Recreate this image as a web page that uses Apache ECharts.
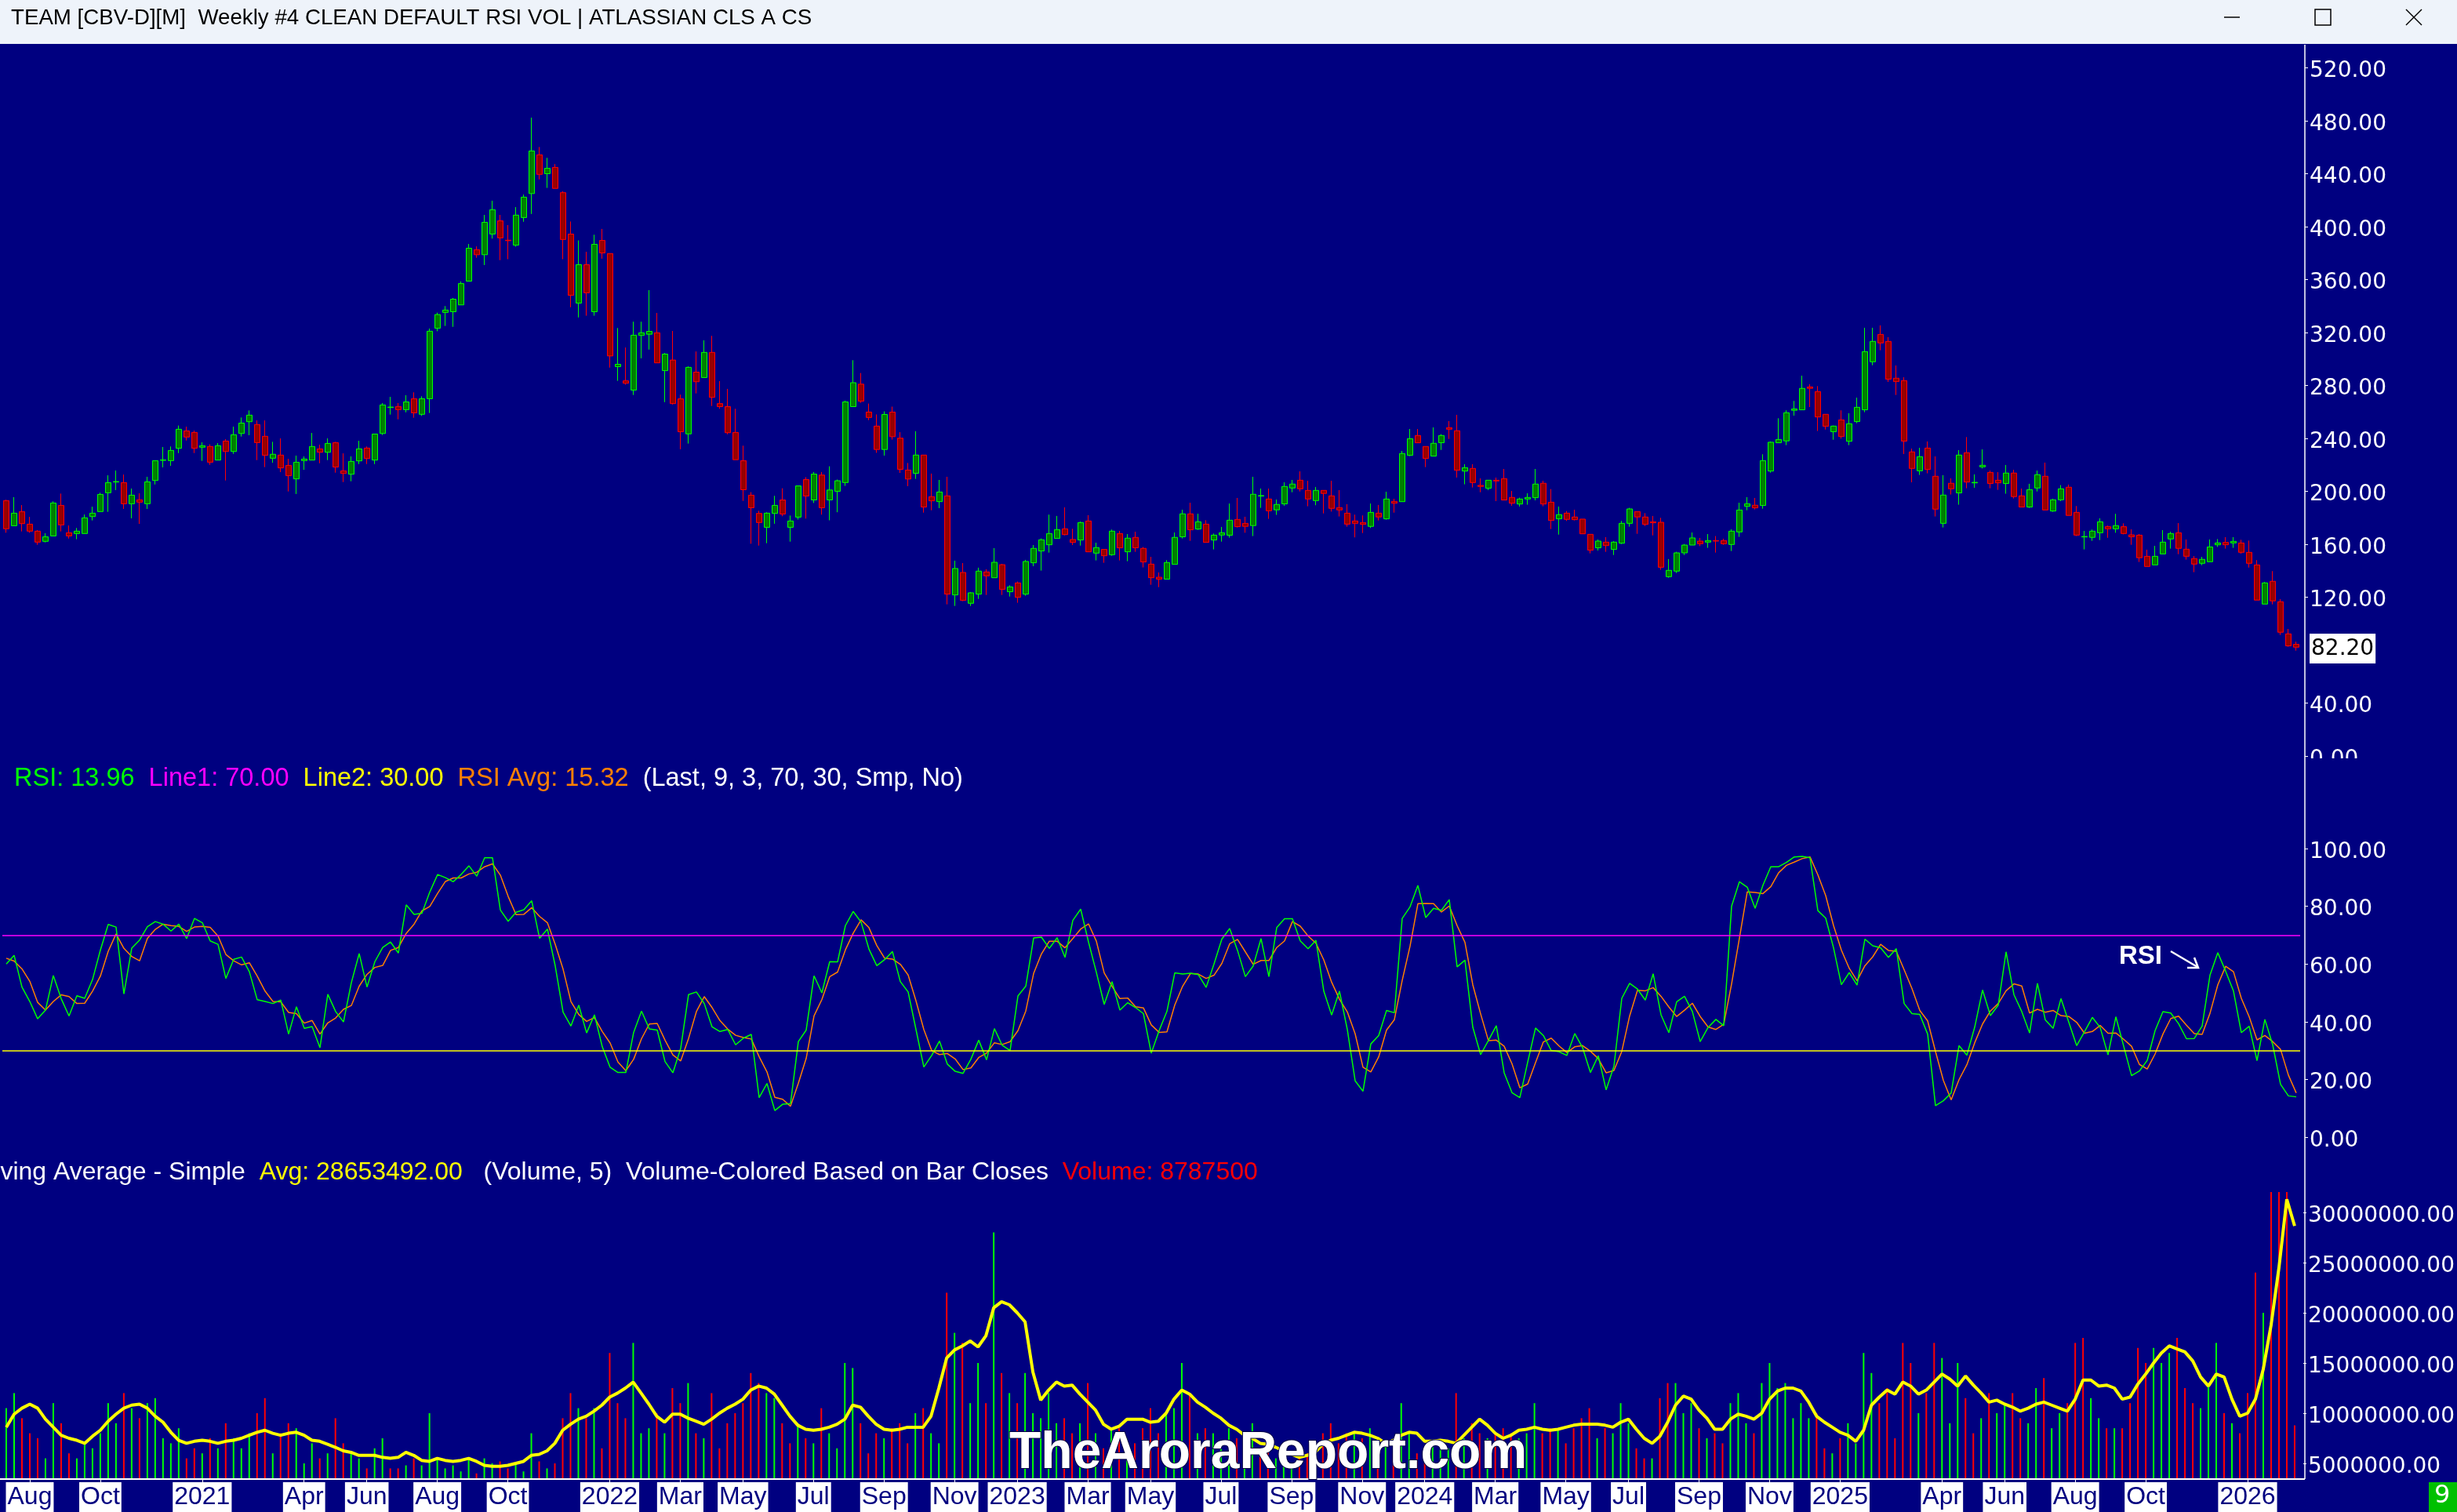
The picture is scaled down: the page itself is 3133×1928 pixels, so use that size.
<!DOCTYPE html>
<html>
<head>
<meta charset="utf-8">
<script src="https://cdn.jsdelivr.net/npm/echarts@6/dist/echarts.min.js"></script>
<style>
  html, body { margin: 0; padding: 0; background: #000080; }
  #chart { width: 3133px; height: 1928px; }
</style>
</head>
<body>
<div id="chart"></div>
<script>
// weekly bars, first bar = week of 13 Jul 2020
const firstWeek = [2020, 6, 13];

const opens = [193.0,174.0,184.7,175.2,169.9,162.2,166.3,189.4,168.7,168.1,
  168.1,180.9,184.7,198.9,207.0,206.6,190.6,193.6,190.6,208.2,
  223.4,223.2,232.5,245.7,244.5,233.3,233.9,223.6,238.0,230.1,
  243.7,252.6,250.5,241.6,225.0,227.4,219.6,209.4,223.2,223.6,
  232.1,229.5,236.8,215.5,212.9,223.0,232.7,223.6,243.7,263.3,
  264.1,261.7,270.0,258.2,270.0,323.2,335.2,335.7,340.9,358.8,
  382.6,378.8,394.4,404.4,389.8,386.0,406.9,425.0,454.3,440.0,
  444.8,425.7,394.4,342.2,371.3,335.7,389.6,379.7,294.2,283.5,
  276.5,317.8,318.7,319.8,291.2,299.2,269.9,243.4,290.1,286.0,
  305.0,266.3,264.0,244.5,223.2,197.1,183.3,172.8,183.3,193.5,
  172.8,180.5,208.9,193.5,212.3,193.5,200.0,206.6,264.0,281.0,
  259.9,249.3,231.6,259.9,240.2,216.1,213.6,227.4,196.0,192.2,
  196.6,121.7,138.7,115.4,122.3,139.1,134.7,144.6,124.1,130.8,
  122.3,146.0,154.9,159.6,164.4,171.7,163.6,163.2,177.6,153.3,
  156.1,152.1,168.1,154.3,165.2,156.9,145.0,135.1,133.6,144.8,
  165.6,183.0,171.5,175.2,163.2,167.0,166.8,178.8,175.8,174.1,
  196.4,194.2,186.0,190.5,202.5,208.4,200.7,193.0,200.7,196.6,
  187.7,183.5,177.6,176.4,173.5,183.5,179.2,192.4,192.2,227.2,
  242.2,233.9,226.6,236.7,248.1,245.8,215.3,217.3,204.5,202.3,
  208.4,209.6,195.4,190.4,194.2,195.2,206.1,191.8,179.2,183.5,
  180.6,179.0,167.5,157.3,161.6,156.1,160.8,175.8,184.7,180.6,
  177.0,176.6,135.5,139.7,153.5,159.4,162.4,161.6,162.8,162.8,
  159.8,169.3,188.7,189.5,189.3,215.3,236.7,238.1,261.2,261.6,
  278.9,275.4,258.2,245.0,254.0,237.8,252.7,261.6,297.9,318.6,
  313.3,285.5,283.7,229.8,215.5,232.7,211.4,175.8,206.1,198.8,
  229.2,206.4,218.5,214.3,208.4,205.9,213.8,196.6,188.1,202.5,
  211.4,185.1,193.6,203.1,184.1,165.5,165.2,168.7,173.3,171.7,
  173.3,167.1,166.9,150.9,144.4,152.7,164.0,168.7,156.3,149.2,
  145.6,146.8,159.6,161.4,161.0,161.0,153.9,144.4,114.8,132.0,
  116.6,92.3,84.4];

const closes = [171.7,183.5,175.6,169.9,161.6,165.7,191.2,174.6,166.3,169.9,
  180.0,183.5,197.7,206.6,207.4,190.6,197.1,191.8,207.2,223.2,
  223.8,230.9,246.9,241.0,232.5,234.5,222.0,234.5,230.1,242.8,
  251.6,257.6,236.8,227.2,228.0,217.7,211.8,222.0,224.4,233.9,
  229.5,236.2,218.3,213.5,222.6,232.1,224.8,243.3,265.3,263.7,
  261.7,267.6,259.3,270.0,321.0,333.6,337.0,345.2,357.0,383.7,
  378.8,403.3,412.8,391.5,389.4,408.7,422.3,457.2,439.5,444.1,
  428.9,390.3,348.1,371.3,350.0,386.7,380.1,302.3,296.0,281.7,
  318.0,319.8,320.9,297.1,303.7,266.3,245.0,293.7,282.8,305.0,
  271.0,264.0,244.3,223.9,201.2,187.6,176.4,183.5,189.4,182.8,
  177.6,204.1,196.4,213.0,187.6,201.0,208.0,267.6,282.1,268.1,
  255.8,231.6,258.1,241.3,216.6,209.3,227.4,188.1,192.8,199.5,
  122.3,141.7,117.6,123.3,139.7,136.1,146.4,125.9,127.8,119.9,
  147.0,156.9,163.4,168.1,171.1,167.3,161.4,176.4,154.3,157.5,
  151.3,169.9,157.3,164.6,157.3,146.6,134.7,133.6,146.2,165.2,
  183.0,170.9,177.0,161.4,166.9,168.7,178.2,173.3,173.5,197.8,
  196.8,185.3,190.1,203.7,205.5,201.9,194.2,200.7,198.4,187.1,
  185.9,175.2,175.8,175.0,184.1,180.6,194.2,191.0,228.6,239.8,
  236.7,224.8,236.3,242.2,246.9,215.9,217.9,206.6,203.7,208.4,
  207.8,193.4,191.0,194.2,195.4,205.5,190.4,178.0,182.4,178.8,
  178.6,167.9,155.5,162.4,159.0,161.6,175.8,186.7,180.6,175.0,
  176.2,142.6,140.3,153.5,159.4,164.8,160.4,162.8,162.4,160.4,
  169.9,185.9,190.6,187.5,223.2,237.1,239.2,259.4,262.3,277.8,
  277.8,256.2,249.1,249.3,241.4,251.1,263.5,305.6,313.3,312.1,
  284.7,282.9,237.9,217.3,226.2,216.5,186.5,197.2,201.9,227.4,
  207.0,206.8,219.7,205.9,206.4,213.8,196.0,188.1,201.3,212.6,
  185.9,193.6,201.9,181.8,166.9,165.9,169.9,177.0,171.7,174.1,
  168.1,165.6,149.8,143.2,150.9,161.6,168.1,156.9,150.9,145.0,
  148.6,158.0,161.0,159.6,162.2,153.9,145.6,117.8,130.8,117.2,
  93.5,83.2,82.2];

const highs = [193.6,195.6,189.6,180.7,170.7,168.3,192.4,198.3,174.2,172.3,
  182.5,188.4,198.9,212.1,215.7,212.7,202.1,198.5,211.0,223.2,
  233.5,233.9,249.7,248.9,245.9,237.0,235.5,236.4,239.4,248.9,
  255.8,261.1,253.6,253.6,237.4,240.0,224.6,227.0,226.4,244.1,
  235.3,240.0,237.4,228.7,226.4,238.2,233.9,243.3,266.7,271.4,
  266.7,272.6,274.8,271.8,323.0,335.0,340.0,346.1,358.6,386.9,
  385.1,408.9,419.6,408.9,401.2,414.8,424.3,482.4,460.2,452.0,
  447.3,426.8,403.9,389.6,381.0,393.9,398.3,379.7,323.4,308.7,
  328.2,328.2,352.0,334.8,304.6,321.2,273.1,294.4,305.7,314.1,
  317.5,283.3,277.4,262.4,234.5,199.4,185.3,184.2,196.6,202.3,
  181.7,204.1,210.7,214.6,214.6,218.9,208.9,268.5,299.1,289.4,
  266.3,258.1,260.4,264.0,244.7,221.4,245.4,227.4,213.4,208.6,
  211.0,147.6,145.8,123.9,142.3,141.1,157.1,145.2,129.0,131.8,
  148.2,159.4,164.4,182.4,181.4,187.9,171.7,177.2,182.0,161.2,
  156.1,171.1,170.1,167.7,169.5,157.9,150.5,138.7,148.0,168.9,
  186.1,191.4,183.1,178.2,168.1,173.1,190.8,195.0,180.8,211.0,
  202.1,202.1,193.8,206.8,208.6,215.1,208.0,203.3,200.7,208.0,
  200.9,190.3,182.4,181.8,190.8,189.7,199.7,194.4,230.5,247.1,
  247.1,233.9,248.3,243.2,253.1,257.8,220.5,220.5,209.8,208.4,
  210.4,216.9,200.3,195.2,198.5,216.9,208.0,201.7,188.5,185.1,
  186.1,179.0,167.5,163.6,165.4,162.4,177.6,187.5,184.7,183.5,
  181.4,180.0,148.8,154.3,160.2,168.9,164.8,167.7,166.2,164.2,
  171.3,191.4,195.6,195.0,228.0,237.7,255.2,261.2,268.3,287.4,
  280.9,279.5,258.2,249.7,261.2,259.0,270.8,323.6,323.6,325.4,
  316.5,295.1,286.2,232.3,232.9,237.7,226.4,212.2,209.8,231.1,
  241.0,212.8,231.7,215.7,214.5,219.9,216.3,202.1,205.7,215.7,
  221.7,194.4,204.7,205.1,188.9,170.1,171.1,179.6,174.2,183.0,
  175.8,171.3,167.7,155.9,158.8,170.7,169.5,176.0,163.6,151.1,
  150.5,163.6,163.9,165.4,165.4,163.4,162.8,148.0,131.6,139.7,
  118.5,96.0,86.4];

const lows = [168.7,174.0,169.7,168.7,159.6,161.4,166.3,169.7,164.3,163.8,
  168.1,178.0,184.7,184.5,200.9,186.7,179.6,175.4,186.7,205.2,
  218.1,219.3,228.9,238.4,228.9,223.0,220.0,223.6,208.2,228.3,
  241.4,242.4,223.6,218.3,221.6,214.5,199.9,198.0,216.3,223.6,
  221.2,223.6,214.1,207.0,207.6,220.6,220.6,220.6,242.6,258.0,
  254.4,259.7,255.6,257.0,259.2,321.0,325.0,324.3,340.9,358.8,
  376.5,371.0,391.0,374.7,375.4,384.9,403.7,409.6,435.7,429.3,
  428.9,375.4,339.1,331.4,332.7,332.7,375.8,293.5,283.5,280.6,
  272.8,300.5,307.1,297.1,267.4,265.6,231.8,236.1,274.0,286.0,
  264.5,262.4,243.1,223.9,192.8,160.4,159.0,160.8,175.5,181.2,
  162.0,178.7,179.4,191.2,182.4,178.1,184.2,204.1,264.0,266.9,
  253.8,229.1,227.0,239.1,213.9,203.9,209.4,183.9,185.7,187.3,
  114.6,113.4,117.0,113.4,118.7,121.7,134.7,121.7,120.5,115.8,
  121.1,143.4,140.1,153.7,164.4,166.7,159.4,159.0,154.3,147.8,
  146.0,151.3,147.8,147.2,154.3,142.5,129.4,127.6,133.6,144.8,
  164.4,162.6,170.9,161.4,156.1,162.0,165.0,172.7,168.7,166.2,
  187.5,179.2,182.2,189.1,199.3,199.9,188.7,189.5,183.3,184.7,
  181.0,173.3,165.2,168.5,172.3,178.0,178.6,183.9,192.2,226.6,
  236.7,218.3,226.6,231.3,239.6,210.4,205.3,202.9,199.3,200.9,
  192.6,193.4,189.1,188.5,189.9,193.2,188.7,171.5,167.3,177.6,
  178.0,167.9,153.1,155.3,154.3,151.9,160.2,173.3,167.9,173.8,
  166.7,140.7,134.7,138.3,151.9,159.4,158.6,157.3,153.7,159.6,
  154.9,165.6,185.7,186.3,186.9,214.1,236.7,234.9,257.2,261.6,
  263.7,245.6,246.7,239.0,239.8,234.9,251.5,259.8,295.3,306.6,
  282.7,272.8,228.2,206.8,212.4,213.6,181.0,172.7,197.6,189.9,
  202.3,202.7,217.3,202.3,201.1,198.2,194.6,188.1,187.5,199.9,
  185.9,184.5,192.6,181.8,166.2,156.1,162.6,163.2,164.9,168.7,
  167.5,159.6,146.6,143.2,144.4,152.7,156.7,152.5,148.4,138.9,
  144.2,146.8,158.0,156.7,157.3,152.9,142.4,117.8,114.8,114.6,
  91.5,82.6,79.6];

// RSI (green) and RSI Avg (orange)
const rsi = [60.0,63.0,52.0,47.0,41.0,44.0,56.0,48.0,42.0,49.0,
  48.1,54.6,64.8,73.7,72.8,49.6,65.5,68.3,72.9,74.7,
  73.8,71.4,73.8,68.8,75.8,74.3,68.0,66.8,55.0,61.6,
  62.4,57.3,47.6,47.0,46.3,47.5,35.7,45.2,37.7,38.3,
  31.0,49.5,43.5,39.9,53.5,63.6,52.0,60.8,65.7,67.6,
  63.8,80.5,77.2,77.6,84.9,91.0,89.9,88.5,91.0,94.0,
  90.4,96.8,96.8,78.7,74.8,77.9,78.8,81.9,68.9,72.1,
  59.3,43.3,38.5,45.7,36.1,42.4,31.3,24.2,22.4,22.4,
  36.3,43.7,37.5,37.1,26.2,22.3,30.8,49.4,50.3,46.3,
  38.2,36.6,37.3,32.0,34.3,35.6,13.7,18.6,9.2,11.4,
  11.6,33.1,37.1,55.9,50.0,60.8,60.7,73.3,78.2,74.5,
  65.2,59.4,61.5,64.3,53.9,50.3,37.3,24.3,28.3,33.3,
  25.3,22.8,22.1,27.0,33.6,26.8,37.6,31.8,30.0,48.9,
  52.3,69.0,69.3,65.4,69.1,62.3,75.1,79.0,67.6,57.1,
  46.0,53.9,44.0,46.6,44.9,42.8,29.1,36.9,43.6,56.9,
  56.5,56.8,56.3,51.9,60.0,68.6,72.3,64.7,55.6,59.3,
  68.8,55.6,72.6,75.7,75.7,68.0,65.3,68.2,50.6,42.3,
  50.6,37.3,19.5,15.9,32.3,35.2,43.9,43.1,75.8,79.8,
  87.2,76.1,79.3,78.6,82.3,59.0,61.3,38.1,28.6,33.5,
  38.6,22.3,15.4,13.7,26.0,37.8,35.2,30.0,29.6,28.3,
  35.9,31.0,22.4,28.2,16.4,24.6,48.1,53.3,51.3,47.5,
  56.6,42.4,36.2,46.9,48.8,43.5,33.1,38.0,40.8,38.6,
  80.0,88.5,86.6,79.3,87.3,93.7,93.7,95.2,97.1,97.3,
  96.8,78.5,75.9,65.6,52.8,57.0,52.7,68.6,66.3,65.6,
  62.3,65.3,46.3,42.8,42.5,35.7,10.9,12.6,15.3,31.7,
  28.4,38.1,51.0,42.1,45.7,64.2,49.4,43.5,36.1,53.3,
  40.6,37.7,48.0,39.8,31.7,36.5,41.5,38.0,28.5,41.7,
  31.5,21.3,22.9,26.6,36.9,43.5,43.0,39.3,34.1,34.2,
  38.5,56.1,63.9,57.5,50.6,36.2,38.4,26.5,40.8,32.0,
  18.3,14.3,13.96];

const rsiAvg = [62.0,61.0,58.3,54.0,46.7,44.0,47.0,49.3,48.7,46.3,
  46.4,50.6,55.8,64.4,70.4,65.4,62.6,61.1,68.9,72.0,
  73.8,73.3,73.0,71.3,72.8,73.0,72.7,69.7,63.3,61.1,
  59.7,60.4,55.8,50.6,47.0,46.9,43.2,42.8,39.5,40.4,
  35.7,39.6,41.3,44.3,45.6,52.3,56.4,58.8,59.5,64.7,
  65.7,70.6,73.8,78.4,79.9,84.5,88.6,89.8,89.8,91.2,
  91.8,93.7,94.7,90.8,83.4,77.1,77.2,79.5,76.5,74.3,
  66.8,58.2,47.0,42.5,40.1,41.4,36.6,32.6,26.0,23.0,
  27.0,34.1,39.2,39.4,33.6,28.5,26.4,34.2,43.5,48.7,
  44.9,40.4,37.4,35.3,34.5,34.0,27.9,22.6,13.8,13.1,
  10.7,18.7,27.3,42.0,47.7,55.6,57.2,64.9,70.7,75.3,
  72.6,66.4,62.0,61.7,59.9,56.2,47.2,37.3,30.0,28.6,
  29.0,27.1,23.4,24.0,27.6,29.1,32.7,32.1,33.1,36.9,
  43.7,56.7,63.5,67.9,67.9,65.6,68.8,72.1,73.9,67.9,
  56.9,52.3,48.0,48.2,45.2,44.8,38.9,36.3,36.5,45.8,
  52.3,56.7,56.5,55.0,56.1,60.2,67.0,68.5,64.2,59.9,
  61.2,61.2,65.7,68.0,74.7,73.1,69.7,67.2,61.4,53.7,
  47.8,43.4,35.8,24.2,22.6,27.8,37.1,40.7,54.3,66.2,
  80.9,81.0,80.9,78.0,80.1,73.3,67.5,52.8,42.7,33.4,
  33.6,31.5,25.4,17.1,18.4,25.8,33.0,34.3,31.6,29.3,
  31.3,31.7,29.8,27.2,22.3,23.1,29.7,42.0,50.9,50.7,
  51.8,48.8,45.1,41.8,44.0,46.4,41.8,38.2,37.3,39.1,
  53.1,69.0,85.0,84.8,84.4,86.8,91.6,94.2,95.3,96.5,
  97.1,90.9,83.7,73.3,64.8,58.5,54.2,59.4,62.5,66.8,
  64.7,64.4,58.0,51.5,43.9,40.3,29.7,19.7,12.9,19.9,
  25.1,32.7,39.2,43.7,46.3,50.7,53.1,52.4,43.0,44.3,
  43.3,43.9,42.1,41.8,39.8,36.0,36.6,38.7,36.0,36.1,
  33.9,31.5,25.2,23.6,28.8,35.7,41.1,41.9,38.8,35.9,
  35.6,42.9,52.8,59.2,57.3,48.1,41.7,33.7,35.2,33.1,
  30.4,21.5,15.32];

// weekly volume and its moving average, in millions of shares
const volumeM = [10.5,12.0,9.5,8.0,7.5,5.5,11.0,9.0,6.0,5.5,
  7.0,6.5,8.0,11.0,9.0,12.0,10.5,9.5,11.0,11.5,
  7.5,7.0,8.5,5.5,6.5,6.0,7.5,6.5,9.0,7.5,
  6.5,8.0,10.0,11.5,6.0,8.0,9.0,8.5,5.0,7.0,
  5.5,6.0,9.5,7.0,6.0,5.5,4.5,6.5,7.5,4.5,
  4.5,4.8,5.5,4.8,10.0,5.5,4.5,4.8,4.2,5.5,
  4.0,5.5,5.0,5.2,4.5,5.0,4.2,8.0,5.2,4.5,
  5.0,9.5,12.0,10.5,9.5,10.5,6.5,16.0,11.0,9.5,
  17.0,8.0,8.5,10.0,8.0,12.5,11.0,13.0,8.0,7.5,
  12.0,6.5,9.0,10.0,11.0,14.0,13.0,12.0,11.5,9.0,
  7.0,9.0,7.5,7.0,10.5,8.0,6.5,15.0,14.5,9.0,
  6.0,8.0,7.5,8.5,9.0,7.0,10.0,10.5,8.0,7.0,
  22.0,18.0,17.0,11.0,15.0,11.0,28.0,14.0,12.0,11.0,
  14.0,10.0,9.5,12.0,9.0,9.5,8.0,9.0,13.0,8.0,
  6.5,8.5,8.5,7.5,7.0,8.5,10.5,8.0,10.0,10.5,
  15.0,12.0,8.0,8.5,8.0,7.0,8.5,7.5,5.5,9.0,
  6.0,7.0,5.5,6.0,5.0,5.5,6.0,5.0,8.0,9.0,
  7.0,8.0,8.0,7.5,8.5,6.5,7.0,6.0,11.0,8.0,
  6.0,6.5,7.0,6.5,6.5,12.0,7.5,9.0,8.0,7.5,
  8.0,8.5,8.0,7.5,8.0,11.0,8.0,8.5,8.5,7.0,
  8.5,9.5,10.5,7.5,8.5,8.0,11.0,9.0,6.5,5.5,
  5.5,11.5,13.0,13.0,10.0,11.0,8.5,7.5,8.0,7.0,
  11.0,12.0,9.0,8.0,13.0,15.0,12.5,13.0,9.5,11.0,
  9.5,10.0,6.5,6.0,7.5,9.0,7.0,16.0,14.0,11.0,
  12.5,7.5,17.0,15.0,10.0,12.0,17.0,15.5,9.0,15.0,
  11.5,8.0,9.5,12.0,10.0,11.0,12.0,9.5,9.0,12.5,
  13.5,8.5,10.0,11.0,17.0,17.5,11.5,9.5,8.5,8.5,
  8.5,11.0,16.5,15.0,16.5,15.0,16.0,17.5,12.5,11.0,
  10.5,13.0,17.0,10.0,9.0,8.0,12.0,24.0,20.0,33.5,
  41.5,39.5,8.7875];

const volumeAvgM = [8.6,9.9,10.5,10.9,10.5,9.4,8.6,7.8,7.5,7.3,
  7.0,7.7,8.3,9.2,9.9,10.5,10.8,10.9,10.5,9.7,
  9.1,8.1,7.3,7.0,7.2,7.3,7.2,7.0,7.2,7.3,
  7.5,7.8,8.1,8.3,8.0,7.8,8.0,8.1,7.8,7.3,
  7.2,6.9,6.6,6.25,6.1,5.8,5.8,5.8,5.6,5.5,
  5.6,6.1,5.8,5.3,5.2,5.5,5.3,5.2,5.3,5.5,
  5.2,4.8,4.7,4.7,4.8,5.0,5.2,5.8,5.9,6.25,
  7.0,8.3,8.9,9.4,9.7,10.2,10.8,11.6,12.0,12.5,
  13.1,12.0,10.9,9.7,9.1,9.9,9.9,9.5,9.2,8.9,
  9.4,10.0,10.5,10.9,11.4,12.3,12.7,12.5,11.9,10.8,
  9.7,8.8,8.4,8.3,8.4,8.6,8.9,9.4,10.8,10.6,
  9.7,8.9,8.4,8.3,8.4,8.6,8.6,8.6,9.7,12.5,
  15.5,16.3,16.7,17.2,16.6,17.7,20.5,21.1,20.8,20.0,
  19.1,14.1,11.3,12.3,13.1,12.7,12.8,11.9,11.1,10.3,
  8.9,8.4,8.7,9.4,9.4,9.4,9.1,9.2,10.0,11.4,
  12.3,11.9,11.1,10.6,10.0,9.5,8.8,8.4,7.8,7.5,
  7.0,6.9,6.6,6.25,5.9,5.6,5.8,6.1,6.9,7.3,
  7.5,7.8,8.1,8.0,7.8,7.5,7.0,7.3,7.8,8.1,
  8.0,7.2,7.2,7.3,7.2,7.0,7.8,8.6,9.4,8.8,
  8.0,7.5,7.8,8.3,8.4,8.6,8.4,8.3,8.4,8.6,
  8.8,8.9,8.9,8.9,8.8,8.6,9.1,9.4,8.4,7.5,
  7.0,7.7,9.1,10.8,11.7,11.4,10.3,9.5,8.4,8.4,
  9.4,9.9,9.7,9.4,10.0,11.4,12.2,12.5,12.5,12.2,
  11.1,9.7,9.1,8.6,8.1,7.8,7.2,8.3,10.8,11.6,
  12.3,11.9,13.1,12.7,11.9,12.3,13.1,13.9,13.4,12.7,
  13.7,12.8,12.0,11.1,11.3,10.9,10.6,10.2,10.5,10.9,
  11.1,10.8,10.5,10.2,11.4,13.3,13.3,12.7,12.8,12.5,
  11.4,11.6,12.9,13.9,15.0,16.0,16.7,16.4,16.1,15.2,
  13.6,12.7,13.9,13.6,11.4,9.7,10.0,11.4,14.4,18.8,
  24.5,31.3,28.653492];

// time axis labels: week (Monday) that carries each label
const tickWeeks = ['2020-08-03','2020-10-05','2021-01-04','2021-04-05','2021-05-31','2021-08-02','2021-10-04',
  '2022-01-03','2022-03-07','2022-05-02','2022-07-04','2022-09-05','2022-11-07','2023-01-02','2023-03-06','2023-05-01',
  '2023-07-03','2023-09-04','2023-11-06','2024-01-01','2024-03-04','2024-05-06','2024-07-01','2024-09-02','2024-11-04',
  '2025-01-06','2025-04-07','2025-06-02','2025-08-04','2025-10-06','2026-01-05'];
const tickLabels = ['Aug','Oct','2021','Apr','Jun','Aug','Oct',
  '2022','Mar','May','Jul','Sep','Nov','2023','Mar','May',
  'Jul','Sep','Nov','2024','Mar','May','Jul','Sep','Nov',
  '2025','Apr','Jun','Aug','Oct','2026'];

const priceTicks = [0, 40, 120, 160, 200, 240, 280, 320, 360, 400, 440, 480, 520];
const volumeTicks = [5e6, 10e6, 15e6, 20e6, 25e6, 30e6];

// categories
const weeks = [];
for (let i = 0; i < closes.length; i++) {
  const d = new Date(Date.UTC(firstWeek[0], firstWeek[1], firstWeek[2] + 7 * i));
  weeks.push(d.toISOString().slice(0, 10));
}
const tickAt = {};
tickWeeks.forEach((w, k) => {
  const idx = weeks.indexOf(w);
  if (idx >= 0) tickAt[idx] = tickLabels[k];
});

const candles = weeks.map((w, i) => [opens[i], closes[i], lows[i], highs[i]]);
const volBars = volumeM.map((v, i) => ({
  value: v * 1e6,
  itemStyle: { color: (i > 0 && closes[i] < closes[i - 1]) ? '#ff0000' : '#00ff00' }
}));
const volAvg = volumeAvgM.map(v => v * 1e6);
const lastClose = closes[closes.length - 1];

const chart = echarts.init(document.getElementById('chart'));

// right-hand scale labels, nudged a little lower like the original
const yRich = { a: { color: '#ffffff', fontFamily: 'DejaVu Sans', fontSize: 28, padding: [9, 0, 0, 0] } };
const yLab = { color: '#ffffff', fontFamily: 'DejaVu Sans', fontSize: 28, margin: 6, rich: yRich };
const yTick = { show: true, length: 4, lineStyle: { color: '#ffffff', width: 1 } };
const legendFont = '32px "Liberation Sans"';
const rsiFont = '32.5px "Liberation Sans"';

const tagStyle = {
  text: lastClose.toFixed(2), fill: '#000000', font: '28px "DejaVu Sans"',
  backgroundColor: '#ffffff', padding: [6, 2, 4, 2]
};

const option = {
  backgroundColor: '#000080',
  animation: false,
  grid: [
    { left: 3, width: 2930, top: 57, height: 907 },
    { left: 3, width: 2930, top: 1082, height: 368 },
    { left: 3, width: 2930, top: 1520, height: 366 }
  ],
  xAxis: [0, 1, 2].map(k => ({
    type: 'category',
    gridIndex: k,
    data: weeks,
    boundaryGap: true,
    axisLine: { show: false },
    splitLine: { show: false },
    axisTick: {
      show: k === 2,
      alignWithLabel: true,
      length: 4,
      interval: (i) => tickAt[i] !== undefined,
      lineStyle: { color: '#ffffff' }
    },
    axisLabel: {
      show: k === 2,
      interval: (i) => tickAt[i] !== undefined,
      formatter: (v, i) => tickAt[i] || '',
      color: '#000080',
      backgroundColor: '#ffffff',
      fontFamily: 'Liberation Sans',
      fontSize: 32,
      lineHeight: 34,
      padding: [2, 2, 2, 2],
      margin: 4
    }
  })),
  yAxis: [
    {
      gridIndex: 0, type: 'value', position: 'right', offset: 6,
      min: 0, max: 537.5, interval: 40,
      splitLine: { show: false }, axisLine: { show: false },
      axisTick: Object.assign({}, yTick, { customValues: priceTicks }),
      axisLabel: Object.assign({}, yLab, {
        customValues: priceTicks,
        formatter: v => (priceTicks.indexOf(v) >= 0 ? '{a|' + v.toFixed(2) + '}' : '')
      })
    },
    {
      gridIndex: 1, type: 'value', position: 'right', offset: 6,
      min: 0, max: 100, interval: 20,
      splitLine: { show: false }, axisLine: { show: false },
      axisTick: yTick,
      axisLabel: Object.assign({}, yLab, { formatter: v => '{a|' + v.toFixed(2) + '}' })
    },
    {
      gridIndex: 2, type: 'value', position: 'right', offset: 6,
      min: 3437500, max: 32030000,
      splitLine: { show: false }, axisLine: { show: false },
      axisTick: Object.assign({}, yTick, { customValues: volumeTicks }),
      axisLabel: Object.assign({}, yLab, {
        customValues: volumeTicks,
        formatter: v => (volumeTicks.indexOf(v) >= 0 ? '{a|' + v.toFixed(2) + '}' : '')
      })
    }
  ],
  series: [
    {
      type: 'candlestick',
      xAxisIndex: 0, yAxisIndex: 0,
      data: candles,
      barWidth: 7,
      itemStyle: {
        color: '#008000', color0: '#990000',
        borderColor: '#00ff00', borderColor0: '#ff0000', borderWidth: 1
      }
    },
    {
      name: 'RSI', type: 'line', xAxisIndex: 1, yAxisIndex: 1,
      data: rsi, symbol: 'none', z: 4,
      lineStyle: { color: '#00ff00', width: 1.5 },
      markLine: {
        silent: true, symbol: 'none', label: { show: false },
        data: [
          { yAxis: 70, lineStyle: { color: '#ff00ff', width: 1.5, type: 'solid' } },
          { yAxis: 30, lineStyle: { color: '#ffff00', width: 1.5, type: 'solid' } }
        ]
      }
    },
    {
      name: 'RSI Avg', type: 'line', xAxisIndex: 1, yAxisIndex: 1,
      data: rsiAvg, symbol: 'none', z: 3,
      lineStyle: { color: '#ff8000', width: 1.5 }
    },
    {
      name: 'Volume', type: 'bar', xAxisIndex: 2, yAxisIndex: 2,
      data: volBars, barWidth: 2
    },
    {
      name: 'Avg', type: 'line', xAxisIndex: 2, yAxisIndex: 2,
      data: volAvg, symbol: 'none', z: 5,
      lineStyle: { color: '#ffff00', width: 4 }
    }
  ],
  graphic: [
    // title bar
    { type: 'rect', left: 0, top: 0, z: 50, shape: { width: 3133, height: 56 }, style: { fill: '#eef3fa' } },
    { type: 'text', left: 14, top: 9, z: 51,
      style: { text: 'TEAM [CBV-D][M]  Weekly #4 CLEAN DEFAULT RSI VOL | ATLASSIAN CLS A CS',
        fill: '#000000', font: '27.7px "Liberation Sans"' } },
    { type: 'line', z: 51, shape: { x1: 2836, y1: 22, x2: 2856, y2: 22 }, style: { stroke: '#000000', lineWidth: 1.5 } },
    { type: 'rect', z: 51, shape: { x: 2952, y: 12, width: 20, height: 20 }, style: { fill: 'none', stroke: '#000000', lineWidth: 1.5 } },
    { type: 'line', z: 51, shape: { x1: 3068, y1: 12, x2: 3088, y2: 32 }, style: { stroke: '#000000', lineWidth: 1.5 } },
    { type: 'line', z: 51, shape: { x1: 3088, y1: 12, x2: 3068, y2: 32 }, style: { stroke: '#000000', lineWidth: 1.5 } },
    // frame lines
    { type: 'line', z: 40, shape: { x1: 2939, y1: 57, x2: 2939, y2: 1886 }, style: { stroke: '#ffffff', lineWidth: 1.5 } },
    { type: 'line', z: 40, shape: { x1: 0, y1: 1886, x2: 2939, y2: 1886 }, style: { stroke: '#ffffff', lineWidth: 2 } },
    // the price pane ends here: lower part of the 0.00 label is cut off
    { type: 'rect', z: 40, shape: { x: 2941, y: 967, width: 192, height: 26 }, style: { fill: '#000080' } },
    // last price tag (moved onto the price scale after the first render)
    { id: 'lastTag', type: 'text', left: 2945, top: 0, z: 45, style: tagStyle },
    // pane legends
    { type: 'text', left: 18, top: 977, z: 41,
      style: {
        text: '{g|RSI: 13.96}  {m|Line1: 70.00}  {y|Line2: 30.00}  {o|RSI Avg: 15.32}  {w|(Last, 9, 3, 70, 30, Smp, No)}',
        font: rsiFont,
        rich: {
          g: { fill: '#00ff00', font: rsiFont },
          m: { fill: '#ff00ff', font: rsiFont },
          y: { fill: '#ffff00', font: rsiFont },
          o: { fill: '#ff8000', font: rsiFont },
          w: { fill: '#ffffff', font: rsiFont }
        }
      } },
    { type: 'text', left: -44, top: 1479, z: 41,
      style: {
        text: '{w|Moving Average - Simple}  {y|Avg: 28653492.00}   {w|(Volume, 5)  Volume-Colored Based on Bar Closes}  {r|Volume: 8787500}',
        font: legendFont,
        rich: {
          w: { fill: '#ffffff', font: legendFont },
          y: { fill: '#ffff00', font: legendFont },
          r: { fill: '#ff0000', font: legendFont }
        }
      } },
    // annotation and watermark
    { type: 'text', left: 2702, top: 1203, z: 41,
      style: { text: 'RSI', fill: '#ffffff', font: 'bold 33px "Liberation Sans"' } },
    { type: 'line', z: 41, shape: { x1: 2768, y1: 1213, x2: 2802, y2: 1233 }, style: { stroke: '#ffffff', lineWidth: 2.5 } },
    { type: 'polyline', z: 41, shape: { points: [[2789, 1234], [2803, 1234], [2798, 1221]] }, style: { stroke: '#ffffff', lineWidth: 2.5, fill: 'none' } },
    { type: 'text', left: 1286, top: 1820, z: 41,
      style: { text: 'TheAroraReport.com', fill: '#ffffff', font: 'bold 66px "Liberation Sans"',
        stroke: '#000040', lineWidth: 2 } },
    // corner box
    { type: 'rect', z: 41, shape: { x: 3097, y: 1890, width: 36, height: 38 }, style: { fill: '#00c000' } },
    { type: 'text', left: 3104, top: 1892, z: 42,
      style: { text: '9', fill: '#ffffff', font: '32px "DejaVu Sans"' } }
  ]
};

chart.setOption(option);

// put the last price tag on the price scale
const tagY = chart.convertToPixel({ yAxisIndex: 0 }, lastClose);
chart.setOption({ graphic: [{ id: 'lastTag', type: 'text', left: 2945, top: Math.round(tagY - 17), z: 45, style: tagStyle }] });
</script>
</body>
</html>
